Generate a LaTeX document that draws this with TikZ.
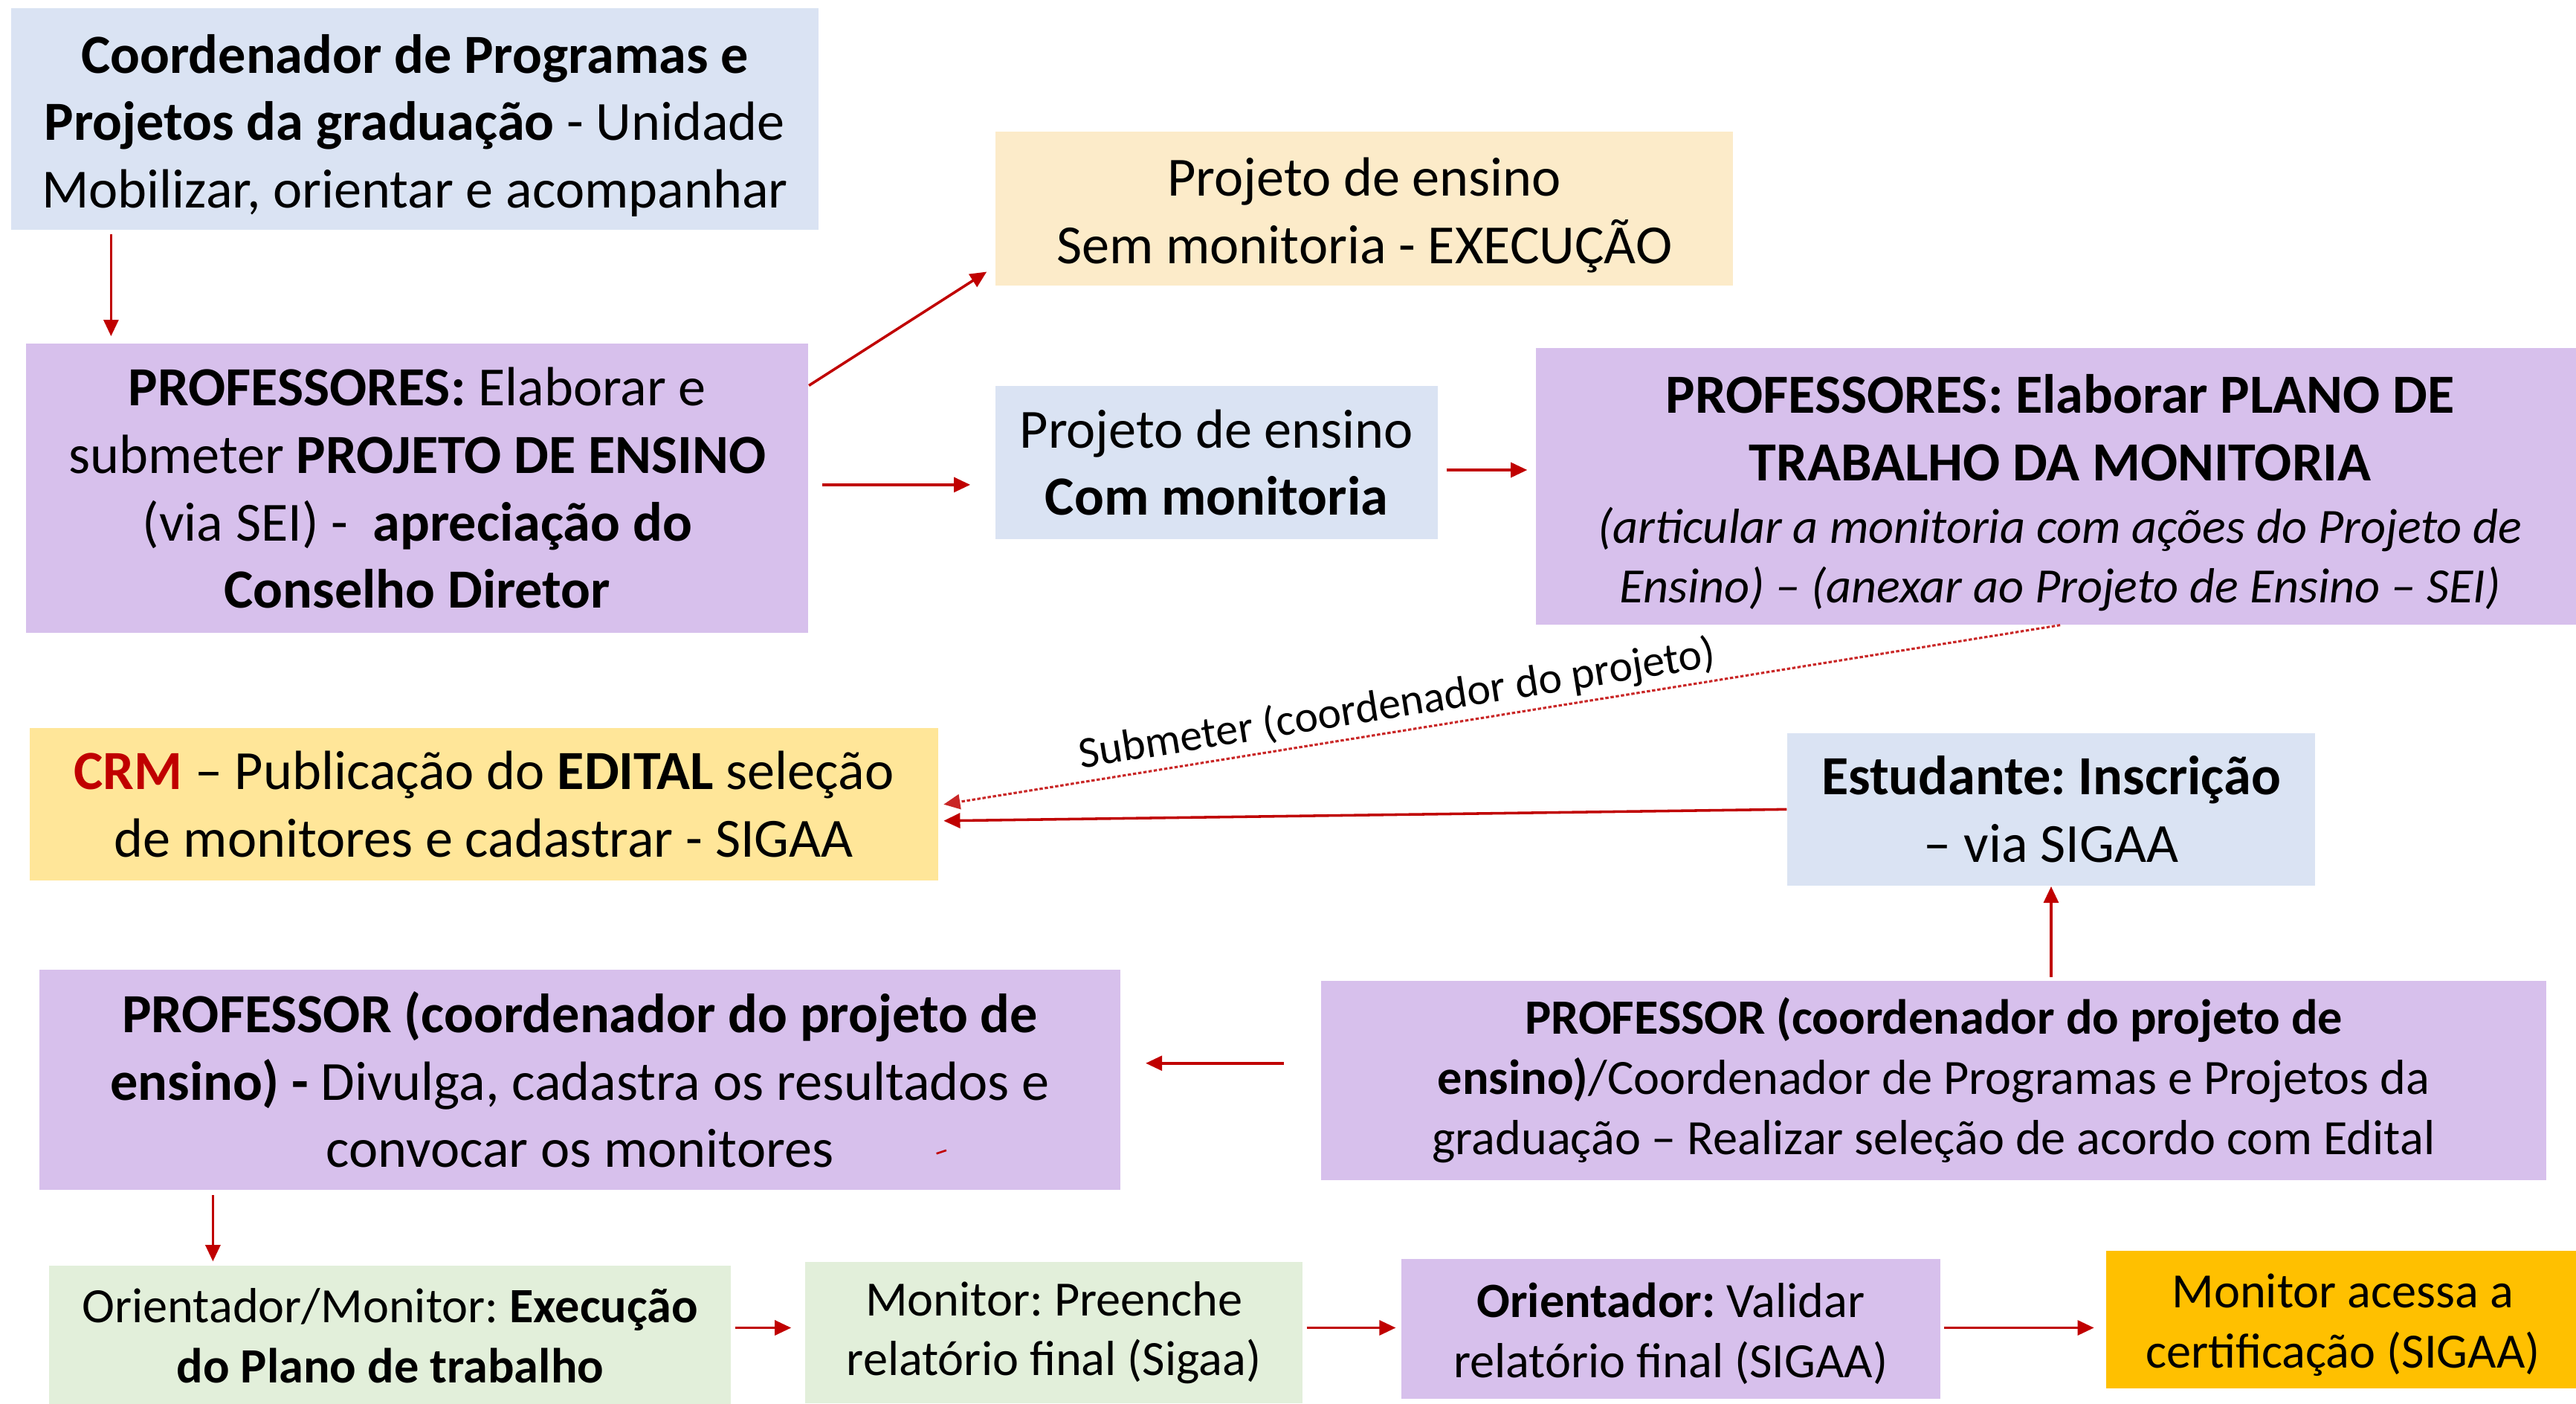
\documentclass[tikz,border=0pt]{standalone}
\usepackage{fontspec}
\setmainfont{Carlito}
\usetikzlibrary{arrows.meta,calc}
\definecolor{cblue}{HTML}{DAE3F3}
\definecolor{cpurple}{HTML}{D7C0EC}
\definecolor{cbeige}{HTML}{FCEBC9}
\definecolor{cyellow}{HTML}{FFE699}
\definecolor{cgreen}{HTML}{E2EFDA}
\definecolor{corange}{HTML}{FFC000}
\definecolor{cred}{HTML}{C00000}
\newcommand{\fsA}{\fontsize{16.8}{20.5}\selectfont}
\newcommand{\fsB}{\fontsize{15}{18.3}\selectfont}
\newcommand{\fsC}{\fontsize{13.5}{16}\selectfont}
\newcommand{\push}[1]{\raisebox{#1}{\vphantom{d}}}
\frenchspacing
\begin{document}
\begin{tikzpicture}[x=0.5pt,y=-0.5pt,
  box/.style={rectangle, inner sep=0pt, align=center, font=\fsA},
  boxs/.style={box, font=\fsB},
  arr/.style={draw=cred, line width=0.8pt, -{Triangle[length=5pt,width=4.5pt]}},
  dotarr/.style={draw=cred!85, line width=0.7pt, dash pattern=on 1pt off 0.6pt, -{Triangle[length=5pt,width=4.5pt]}},
  lbl/.style={font=\fsC, text=black, inner sep=1.5pt}]
\useasboundingbox (0,0) rectangle (1568,854);
\fill[white] (0,0) rectangle (1568,854);

\node[box, fill=cblue, minimum width=245.5pt, minimum height=67.5pt] (b1) at (252.5,72.5)
  {\push{4pt}\textbf{Coordenador de Programas e}\\\textbf{Projetos da graduação} - Unidade\\Mobilizar, orientar e acompanhar};
\node[box, fill=cbeige, minimum width=224.5pt, minimum height=47pt] (b2) at (830.5,127)
  {\push{4pt}Projeto de ensino\\Sem monitoria - EXECUÇÃO};
\node[box, fill=cpurple, minimum width=238pt, minimum height=88pt] (b3) at (254,297)
  {\textbf{PROFESSORES:} Elaborar e\\submeter \textbf{PROJETO DE ENSINO}\\(via SEI) -~~\textbf{apreciação do}\\\textbf{Conselho Diretor}};
\node[box, fill=cblue, minimum width=134.5pt, minimum height=46.5pt] (b4) at (740.5,281.5)
  {Projeto de ensino\\\textbf{Com monitoria}};
\node[box, fill=cpurple, minimum width=319pt, minimum height=84pt] (b5) at (1254,296)
  {\push{4pt}\textbf{PROFESSORES: Elaborar PLANO DE}\\\textbf{TRABALHO DA MONITORIA}\\[-1.5pt]{\fsB\itshape (articular a monitoria com ações do Projeto de}\\[-2.5pt]{\fsB\itshape Ensino) – (anexar ao Projeto de Ensino – SEI)}};
\node[box, fill=cyellow, minimum width=276.5pt, minimum height=46.5pt] (b6) at (294.5,489.5)
  {\textcolor{cred}{\textbf{CRM}} – Publicação do \textbf{EDITAL} seleção\\de monitores e cadastrar - SIGAA};
\node[box, fill=cblue, minimum width=160.5pt, minimum height=46.5pt] (b7) at (1248.5,492.5)
  {\textbf{Estudante: Inscrição}\\– via SIGAA};
\node[box, fill=cpurple, minimum width=329pt, minimum height=67pt] (b8) at (353,657)
  {\textbf{PROFESSOR (coordenador do projeto de}\\\textbf{ensino) -} Divulga, cadastra os resultados e\\convocar os monitores};
\node[boxs, fill=cpurple, minimum width=373pt, minimum height=60.5pt] (b9) at (1177,657.5)
  {\textbf{PROFESSOR (coordenador do projeto de}\\\textbf{ensino)}/Coordenador de Programas e Projetos da\\graduação – Realizar seleção de acordo com Edital};
\node[boxs, fill=cgreen, minimum width=207.5pt, minimum height=43pt] (b10) at (237.5,813)
  {Orientador/Monitor: \textbf{Execução}\\\textbf{do Plano de trabalho}};
\node[boxs, fill=cgreen, minimum width=151.5pt, minimum height=43pt] (b11) at (641.5,811)
  {Monitor: Preenche\\relatório final (Sigaa)};
\node[boxs, fill=cpurple, minimum width=164pt, minimum height=42.5pt] (b12) at (1017,808.5)
  {\push{3pt}\textbf{Orientador:} Validar\\relatório final (SIGAA)};
\node[boxs, fill=corange, minimum width=144pt, minimum height=42pt] (b13) at (1426,803)
  {\push{3pt}Monitor acessa a\\certificação (SIGAA)};

% small red mark
\draw[cred, line width=0.6pt] (570,702) -- (576,700);

% connectors
\draw[arr] ($(b1.south west)+(61,2)$) -- ($(b3.north west)+(52,-4)$);
\draw[arr] ($(b3.north east)+(0,26)$) -- ($(b2.south west)+(-5,-9)$);
\draw[arr] ($(b3.east)+(8,-2)$) -- ($(b4.west |- b3.east)+(-15,-2)$);
\draw[arr] ($(b4.east)+(5,4.5)$) -- ($(b5.west |- b4.east)+(-5,4.5)$);
\draw[dotarr] (b5.south) -- node[lbl, sloped, above, pos=0.59] {Submeter (coordenador do projeto)} ($(b6.east)+(3,0)$);
\draw[arr] (b7.west) -- ($(b6.east)+(3,10)$);
\draw[arr] ($(b9.north -| b7.south)+(0,-2)$) -- (b7.south);
\draw[arr] ($(b9.west)+(-22,-10.5)$) -- ($(b8.east)+(15,-10)$);
\draw[arr] ($(b8.south west)+(106,3)$) -- ($(b10.north west)+(100,-2)$);
\draw[arr] ($(b10.east)+(2,-5)$) -- ($(b11.west)+(-8,-3)$);
\draw[arr] ($(b11.east)+(2,-3)$) -- ($(b12.west)+(-3,-0.5)$);
\draw[arr] ($(b12.east)+(2,-0.5)$) -- ($(b13.west)+(-7,5)$);
\end{tikzpicture}
\end{document}
